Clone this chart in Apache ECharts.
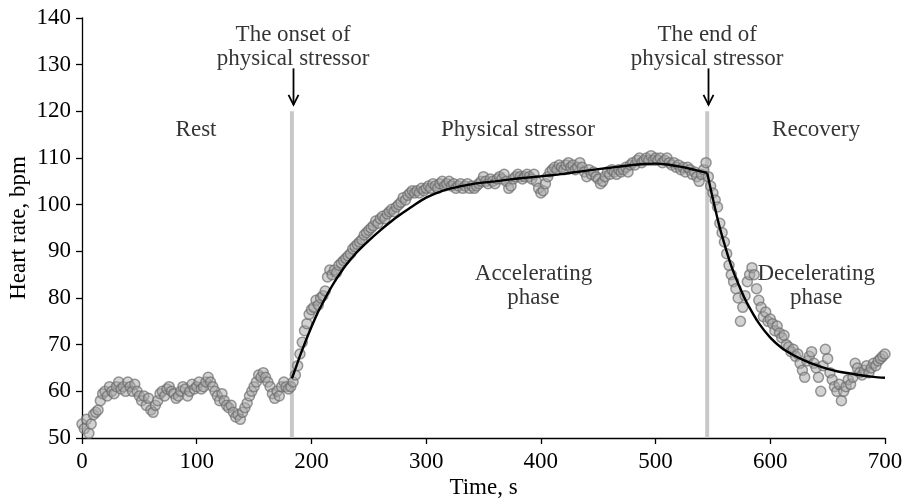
<!DOCTYPE html>
<html>
<head>
<meta charset="utf-8">
<script src="https://cdn.jsdelivr.net/npm/echarts@6/dist/echarts.min.js"></script>
<style>html,body{margin:0;padding:0;background:#fff;}#c{width:903px;height:499px;}</style>
</head>
<body>
<div id="c"></div>
<script>
// ---- Data ----
const hrStart = 0, hrStep = 2; // time of first sample and sampling step, s
const heartRate = [
  53,52,54,51,53,55,55.5,56,58,59.5,60,59,61,60,59.5,61,62,60.5,61,60,
  62,61,60,61.5,60,59,58,59,57,58.5,56,55.5,57,58,59.5,60,59,60.5,61,60,
  59.5,58.5,59,60,61,60.5,59,60,61.5,60.5,61,62,60.5,61,62,63,62,61,60,59,
  58,59.5,58,57,56.5,57,55.5,54.5,55,54,55.5,56.5,57.5,59,60,61,62,63.5,63,64,
  63,62,61,59.5,58.5,60,59,61,62,61,60.5,61,
  62,63.5,65.5,68,70.5,73,74.5,76.5,77.5,78,79.5,78.5,80,80.5,81.5,84.5,86,85,86,85.5,
  87,87.5,88,88.5,89,89.5,90.5,91,91.5,92,92.5,93.5,94,94.5,95,95.5,96.5,96,97,97.5,
  97,98,98.5,99,98.5,99.5,100,100.5,101.5,101,102,102.5,103,102.5,103,102.5,103.5,103,103.5,
  104,103.5,104.5,104,103.5,104.5,105,104,104.5,105,104,104.5,103.5,104,104.5,103.5,104,104.5,103.5,104,
  103.5,104,104.5,105,106,105,104.5,105.5,105,104.5,105.5,106,105.5,106.5,105,103.5,104,105.5,106,106.5,
  106,105.5,106,106.5,106,105.5,106.5,105,103.5,102.5,103,104.5,106,107,107.5,108,107.5,108.5,108,107.5,
  108.5,109,108,108.5,107.5,108,109,108,107,106,107.5,106.5,107,106,105.5,104.5,105,106,107,106.5,
  107.5,107,106.5,107.5,107,107.5,108,107,108.5,109,108.5,109.5,110,109,109.5,110,109.5,110.5,109.5,110,
  109.5,110,109,109.5,110,109,108.5,109,108,108.5,107.5,108,107,108,107.5,106.5,107,106,105,106.5,
  107.5,109,
  106,104,102.5,101,99.5,96,94,92,89.5,87,85,83.5,82,80,75,78,80.5,83.5,85,86.5,
  85,82,79.5,78,76,77,75,75.5,74.5,73,74,72.5,71.5,72,70,69.5,68.5,69,67.5,68,
  66,64.5,63,66.5,67.5,68.5,66,65,63,60,65.5,69,67,64,62.5,61,60,61.5,58,60,
  61,62.5,61.5,63,66,65,64,63.5,64.5,65.5,64,65,66,65.5,66.5,67,67.5,68
];
// fitted model, stressor phase (accelerating)
const fitAccelTimes = [183,186,190,195,200,205,210,215,220,230,240,250,260,270,280,290,300,310,320,340,360,380,400,420,440,460,480,490,500,510,520,530,540,545];
const fitAccelValues = [62.8,64.8,67.6,70.8,73.8,76.6,79.0,81.3,83.4,87.0,89.9,92.3,94.5,96.5,98.3,100.0,101.5,102.6,103.4,104.4,105.0,105.6,106.1,106.6,107.3,107.9,108.5,108.7,108.8,108.6,108.2,107.7,107.1,106.8];
// fitted model, recovery phase (decelerating)
const fitDecelTimes = [545,550,555,560,565,570,575,580,590,600,610,620,630,640,650,660,670,680,690,700];
const fitDecelValues = [106.8,101.2,96.0,91.6,87.6,84.3,81.4,78.8,74.6,71.5,69.3,67.8,66.6,65.6,64.8,64.2,63.8,63.4,63.1,62.9];
// stressor onset/end times
const eventTimes = [183, 545];
const eventLineRange = [50, 120];
const arrowRange = [129.2, 121.4];
// annotation texts [time, value, text]
const phaseLabels = [
  [99.4, 116.0, 'Rest'],
  [380, 116.0, 'Physical stressor'],
  [640, 116.0, 'Recovery'],
  [184, 133.7, 'The onset of\nphysical stressor'],
  [545, 133.7, 'The end of\nphysical stressor'],
  [393.6, 82.6, 'Accelerating\nphase'],
  [640, 82.6, 'Decelerating\nphase']
];
const xTicks = {min: 0, max: 700, interval: 100};
const yTicks = {min: 50, max: 140, interval: 10};

// ---- Build ----
const FONT = 'Liberation Serif';
const FS = 23;
const scatterData = heartRate.map((v, i) => [hrStart + i * hrStep, v]);
const accelData = fitAccelTimes.map((t, i) => [t, fitAccelValues[i]]);
const decelData = fitDecelTimes.map((t, i) => [t, fitDecelValues[i]]);

const eventSeries = eventTimes.map(t => ({
  type: 'line', data: [[t, eventLineRange[0]], [t, eventLineRange[1]]],
  symbol: 'none', lineStyle: {color: '#c8c8c8', width: 4}, z: 1, silent: true
}));

const chart = echarts.init(document.getElementById('c'), null, {renderer: 'canvas'});
const axisCommon = {
  axisLine: {show: true, lineStyle: {color: '#000', width: 1.3}},
  axisTick: {show: true, inside: false, length: 6, lineStyle: {color: '#000', width: 1.3}},
  splitLine: {show: false},
  axisLabel: {color: '#000', fontFamily: FONT, fontSize: FS},
  nameTextStyle: {color: '#000', fontFamily: FONT, fontSize: FS}
};
chart.setOption({
  animation: false,
  backgroundColor: '#fff',
  grid: {left: 82, right: 18, top: 18, bottom: 61, containLabel: false, outerBoundsMode: 'none'},
  xAxis: Object.assign({}, axisCommon, {
    type: 'value', min: xTicks.min, max: xTicks.max, interval: xTicks.interval,
    name: 'Time, s', nameLocation: 'middle', nameGap: 38, nameMoveOverlap: false,
    axisLabel: Object.assign({}, axisCommon.axisLabel, {margin: 12})
  }),
  yAxis: Object.assign({}, axisCommon, {
    type: 'value', min: yTicks.min, max: yTicks.max, interval: yTicks.interval,
    name: 'Heart rate, bpm', nameLocation: 'middle', nameGap: 52, nameMoveOverlap: false,
    axisLabel: Object.assign({}, axisCommon.axisLabel, {margin: 11})
  }),
  series: [
    ...eventSeries,
    {
      type: 'scatter', data: scatterData, symbolSize: 10, z: 2,
      itemStyle: {color: 'rgba(168,168,168,0.65)', borderColor: 'rgba(105,105,105,0.85)', borderWidth: 1.5}
    },
    {type: 'line', data: accelData, smooth: 0.3, symbol: 'none', lineStyle: {color: '#000', width: 2.4}, z: 3},
    {type: 'line', data: decelData, smooth: 0.3, symbol: 'none', lineStyle: {color: '#000', width: 2.4}, z: 3},
    {
      type: 'scatter', data: phaseLabels, symbolSize: 1, itemStyle: {color: 'rgba(0,0,0,0)'}, z: 4, silent: true,
      label: {show: true, position: 'inside', formatter: p => p.data[2], color: '#000',
        fontFamily: FONT, fontSize: FS, lineHeight: 24, align: 'center', verticalAlign: 'middle'}
    }
  ]
});

// arrows (positions via the chart's own scales)
const g = [];
eventTimes.forEach(t => {
  const top = chart.convertToPixel({gridIndex: 0}, [t, arrowRange[0]]);
  const tip = chart.convertToPixel({gridIndex: 0}, [t, arrowRange[1]]);
  const x = Math.round(top[0]) + 1.5;
  g.push({type: 'line', shape: {x1: x, y1: top[1], x2: x, y2: tip[1]}, style: {stroke: '#000', lineWidth: 1.8}, z: 10});
  g.push({type: 'polyline', shape: {points: [[x - 5, tip[1] - 10], [x, tip[1]], [x + 5, tip[1] - 10]]}, style: {stroke: '#000', lineWidth: 1.8, fill: null}, z: 10});
});
chart.setOption({graphic: g});
</script>
</body>
</html>
